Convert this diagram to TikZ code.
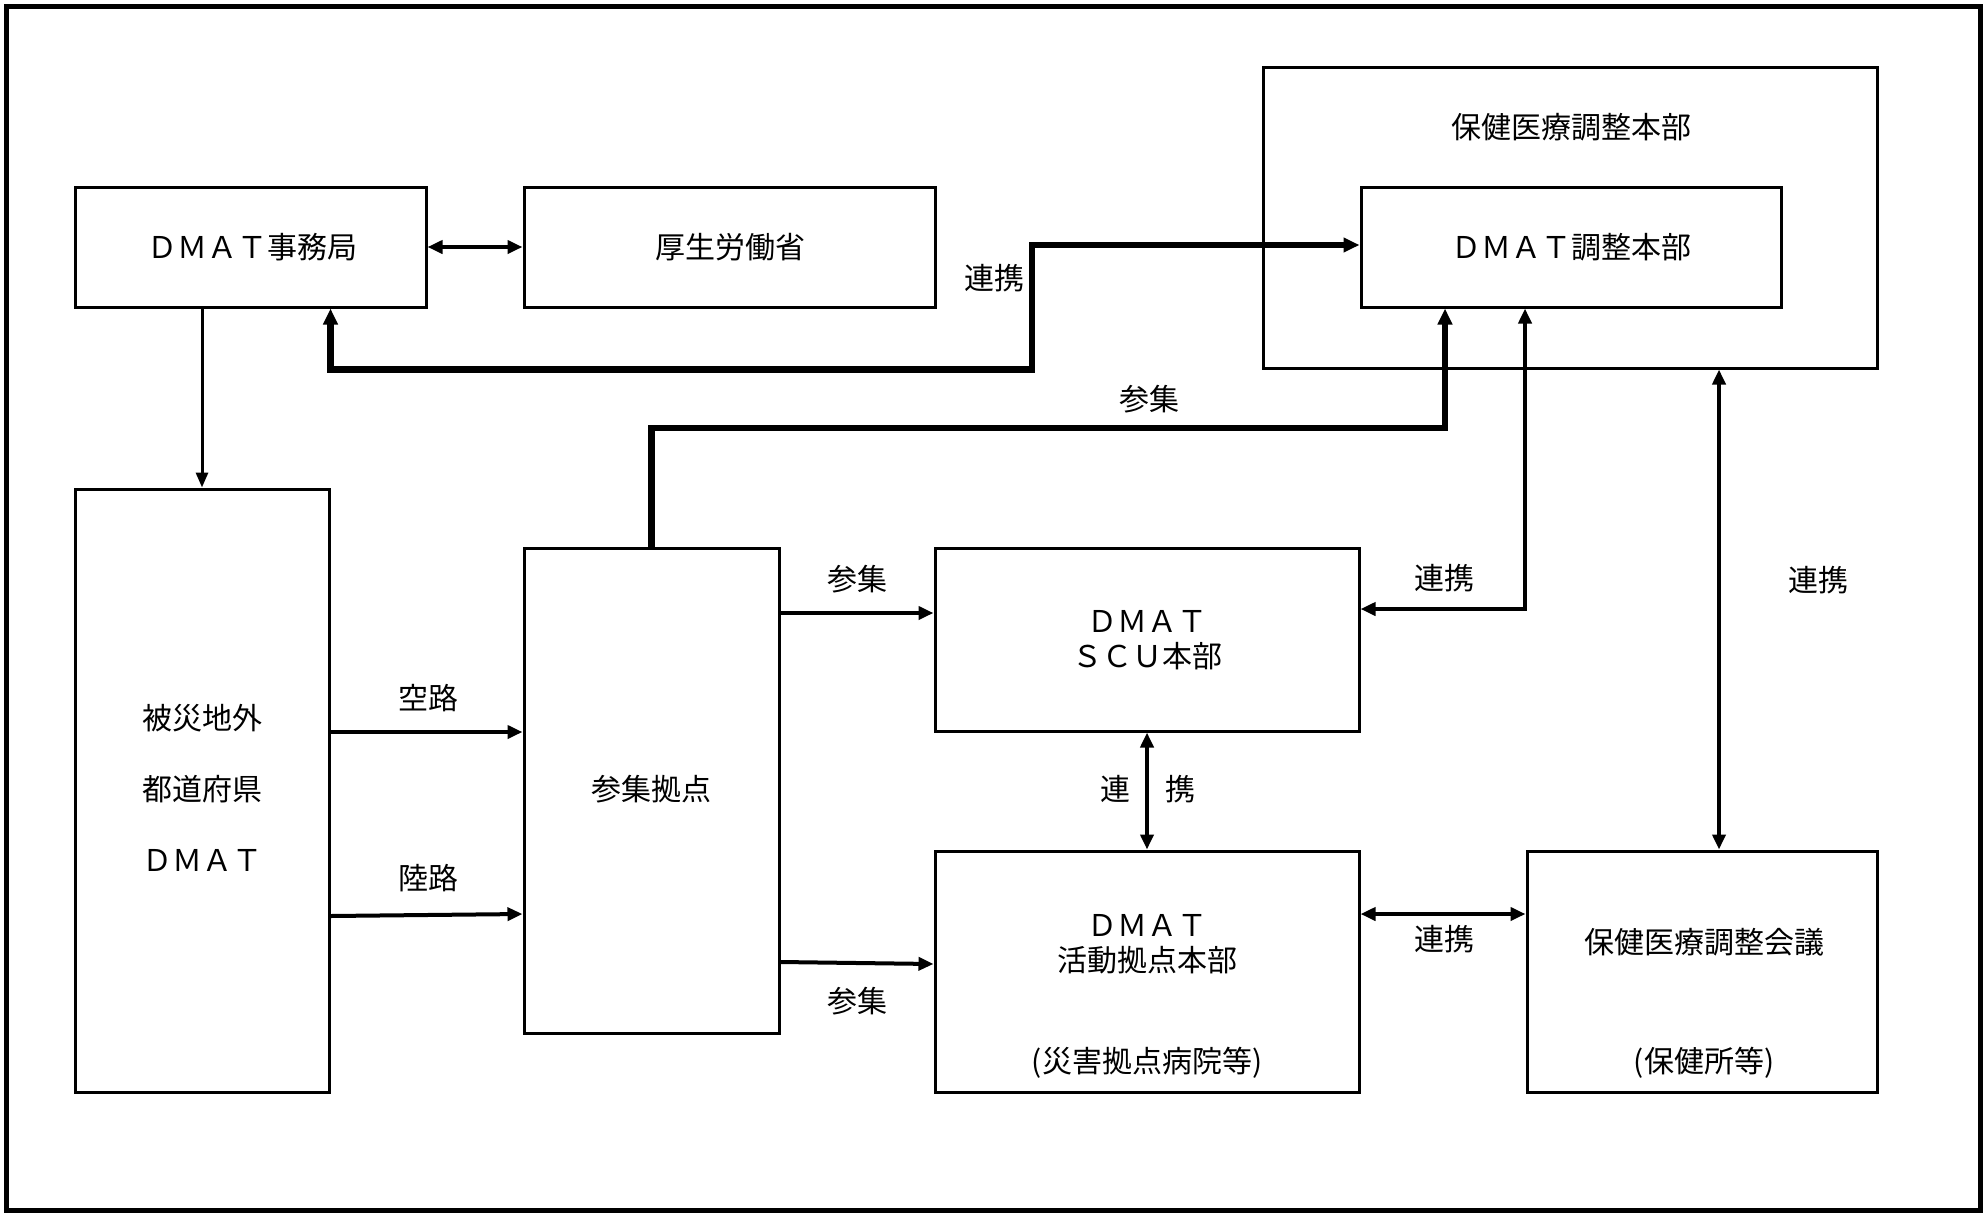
\documentclass[tikz,border=0pt]{standalone}
\usepackage{fontspec}
\newfontfamily\jp{Noto Sans CJK JP}
\usetikzlibrary{arrows.meta}
\begin{document}
\begin{tikzpicture}[x=1pt,y=-1pt,
  box/.style={draw, line width=3pt, inner sep=0pt},
  txt/.style={font=\jp\fontsize{30}{35}\selectfont, inner sep=0pt, align=center},
  conn/.style={line width=4pt, arrows={-Triangle[length=15pt,width=13pt]}},
  conn2/.style={line width=4pt, arrows={Triangle[length=15pt,width=13pt]-Triangle[length=15pt,width=13pt]}},
  heavy/.style={line width=6.5pt}]
\useasboundingbox (0,0) rectangle (1986,1213);
\draw[line width=5pt] (6,6) rectangle (1980,1210);

% boxes
\node[box, minimum width=351pt, minimum height=120pt] (jimu) at (250.5,247) {};
\node[box, minimum width=411pt, minimum height=120pt] (mhlw) at (729.5,247) {};
\node[box, minimum width=614pt, minimum height=301pt] (honbu) at (1570,217.5) {};
\node[box, minimum width=420pt, minimum height=120pt] (chosei) at (1571,247) {};
\node[box, minimum width=254pt, minimum height=603pt] (hisai) at (202,790.5) {};
\node[box, minimum width=255pt, minimum height=485pt] (sanshu) at (651.5,790.5) {};
\node[box, minimum width=424pt, minimum height=183pt] (scu) at (1147,639.5) {};
\node[box, minimum width=424pt, minimum height=241pt] (katsudo) at (1147,971.5) {};
\node[box, minimum width=350pt, minimum height=241pt] (kaigi) at (1702,971.5) {};

% box texts
\node[txt] (tjimu) at (252,247) {ＤＭＡＴ事務局};
\node[txt] (tmhlw) at (730,247) {厚生労働省};
\node[txt] (thonbu) at (1571,127) {保健医療調整本部};
\node[txt] (tchosei) at (1571,247) {ＤＭＡＴ調整本部};
\node[txt] (th1) at (202,718) {被災地外};
\node[txt] (th2) at (202,789) {都道府県};
\node[txt] (th3) at (202,860) {ＤＭＡＴ};
\node[txt] (tsanshu) at (651,789) {参集拠点};
\node[txt] (tscu) at (1147,640) {ＤＭＡＴ\\ＳＣＵ本部};
\node[txt] (tkatsu) at (1147,944) {ＤＭＡＴ\\活動拠点本部};
\node[txt] (tkatsu2) at (1147,1063) {(災害拠点病院等)};
\node[txt] (tkaigi) at (1704,942) {保健医療調整会議};
\node[txt] (tkaigi2) at (1704,1063) {(保健所等)};

% connectors
\coordinate (c1) at (1032,245);
\coordinate (s1) at (1445,428);
\coordinate (r1) at (1525,609);
\coordinate (k1) at (1719,0);

\draw[conn2] (jimu.east) -- (mhlw.west);
\draw[line width=3pt, arrows={-Triangle[length=15pt,width=12pt]}] (jimu.south -| hisai.north) -- (hisai.north);
\draw[heavy, arrows={Triangle[length=16pt,width=14pt]-Triangle[length=16pt,width=14pt]}, line join=miter]
  (hisai.east |- jimu.south) -- (hisai.east |- honbu.south) -- (c1 |- honbu.south) -- (c1) -- (chosei.west |- c1);
\draw[heavy, arrows={-Triangle[length=16pt,width=14pt]}, line join=miter]
  (sanshu.north) -- (sanshu.north |- s1) -- (s1) -- (s1 |- chosei.south);
\draw[conn2, line join=miter] (r1 |- chosei.south) -- (r1) -- (r1 -| scu.east);
\draw[conn2] (k1 |- honbu.south) -- (k1 |- kaigi.north);
\draw[conn] (hisai.east |- 0,732) -- (sanshu.west |- 0,732);
\draw[conn] (hisai.east |- 0,916) -- (sanshu.west |- 0,914);
\draw[conn] (sanshu.east |- 0,613) -- (scu.west |- 0,613);
\draw[conn] (sanshu.east |- 0,962) -- (katsudo.west |- 0,964);
\draw[conn2] (scu.south) -- (katsudo.north);
\draw[conn2] (katsudo.east |- 0,914) -- (kaigi.west |- 0,914);

% labels
\node[txt] (l1) at (994,278) {連携};
\node[txt] (l2) at (1149,399) {参集};
\node[txt] (l3) at (1444,578) {連携};
\node[txt] (l4) at (1818,580) {連携};
\node[txt] (l5) at (428,698) {空路};
\node[txt] (l6) at (428,878) {陸路};
\node[txt] (l7) at (857,579) {参集};
\node[txt] (l8) at (857,1001) {参集};
\node[txt] (l9a) at (1115,789) {連};
\node[txt] (l9b) at (1180,789) {携};
\node[txt] (l10) at (1444,939) {連携};
\end{tikzpicture}
\end{document}
